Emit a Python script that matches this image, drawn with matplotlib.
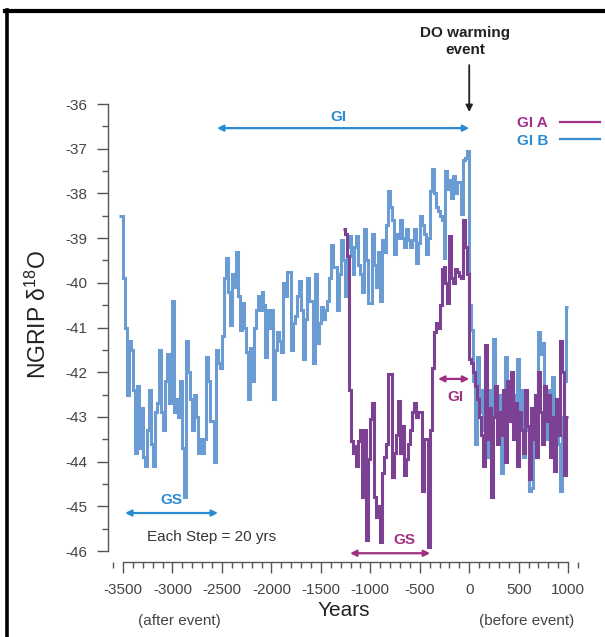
import numpy as np
import matplotlib
matplotlib.use("Agg")
import matplotlib.pyplot as plt
from matplotlib.ticker import MultipleLocator
from matplotlib.lines import Line2D
from matplotlib.transforms import blended_transform_factory

plt.rcParams['font.family'] = ['Liberation Sans', 'DejaVu Sans']
plt.rcParams['mathtext.default'] = 'regular'
plt.rcParams['axes.unicode_minus'] = False

# ---------------- data ----------------
step_years = 20
gib_start = -3540
gib_values = [
    -38.5, -38.5,
    -39.9, -41.0, -42.5, -41.3, -41.5,
    -42.4, -43.8, -42.3, -43.7, -42.8,
    -43.9, -44.1, -43.3, -42.4, -43.6,
    -44.1, -42.9, -42.7, -41.5, -42.9,
    -43.3, -42.2, -41.6, -42.7, -42.0,
    -40.4, -42.9, -42.6, -43.0, -42.2,
    -43.7, -44.8, -41.3, -42.0, -42.6,
    -43.3, -42.5, -43.0, -43.8, -43.5,
    -43.8, -43.5, -41.65, -42.2, -43.1,
    -43.1, -44.0, -41.5, -41.8, -41.9,
    -41.2, -39.9, -39.45, -40.2, -40.95,
    -39.8, -40.1, -39.3, -40.3, -41.05,
    -40.45, -41.0, -41.55, -42.6, -41.45,
    -42.2, -41.0, -40.6, -40.3, -40.6,
    -40.2, -40.5, -41.65, -40.6, -41.0,
    -40.6, -42.6, -41.5, -41.1, -41.3,
    -41.55, -40.0, -40.3, -39.75, -39.75,
    -41.5, -40.9, -40.75, -40.3, -39.95,
    -40.6, -41.7, -40.8, -39.9, -40.4,
    -40.4, -41.8, -39.8, -41.35, -40.9,
    -40.55, -40.8, -40.6, -40.4, -39.9,
    -39.15, -39.65, -39.65, -40.6, -39.8,
    -39.05, -39.5, -40.3, -39.2, -38.95,
    -39.4, -39.8, -39.2, -38.95, -39.6,
    -39.8, -40.2, -38.8, -39.5, -40.45,
    -40.45, -38.9, -39.6, -40.1, -39.3,
    -40.4, -39.05, -39.3, -38.7, -37.95,
    -38.3, -38.6, -39.35, -38.9, -39.0,
    -38.6, -39.0, -39.2, -38.8, -39.05,
    -39.2, -39.05, -38.8, -39.55, -39.1,
    -38.5, -38.7, -38.9, -39.35, -39.0,
    -37.95, -37.45, -38.0, -38.3, -38.4,
    -38.5, -38.6, -39.45, -37.5, -37.9,
    -37.7, -38.1, -37.6, -38.0, -37.75,
    -37.75, -38.45, -37.25, -37.2, -37.05,
    -40.5, -41.05, -42.2, -43.6, -41.65,
    -42.9, -42.4, -43.3, -41.9, -43.9,
    -42.4, -43.0, -41.25, -42.6, -43.4,
    -42.5, -44.25, -43.0, -41.65, -43.1,
    -42.2, -43.1, -42.5, -43.4, -41.7,
    -43.0, -42.4, -43.9, -42.6, -43.3,
    -44.65, -44.6, -43.2, -42.5, -43.0,
    -41.1, -41.6, -41.35, -42.8, -43.5,
    -42.4, -43.2, -42.1, -43.9, -42.9,
    -43.6, -44.65, -43.0, -42.2, -40.55,
]

gia_start = -1280
gia_values = [
    -38.8, -38.9, -39.4, -42.4,
    -43.55, -43.8, -43.65, -44.1, -43.55,
    -43.3, -44.8, -43.3, -45.75, -43.95,
    -43.05, -42.7, -44.8, -45.25, -45.0,
    -45.8, -44.25, -43.9, -43.6, -42.05,
    -42.05, -44.35, -43.8, -43.4, -42.65,
    -43.8, -43.2, -44.3, -43.95, -43.6,
    -43.3, -42.9, -42.7, -43.0, -42.9,
    -42.9, -44.65, -43.5, -43.5, -45.9,
    -43.3, -41.9, -41.1, -40.9, -41.0,
    -40.5, -39.7, -39.65, -40.0, -40.45,
    -38.95, -39.9, -40.0, -39.7, -39.75,
    -39.85, -39.9, -38.6, -39.2, -39.8,
    -41.7, -41.8, -42.0, -42.3, -42.6,
    -43.0, -43.4, -44.1, -41.4, -43.5,
    -42.8, -44.8, -43.0, -42.3, -43.6,
    -42.9, -43.4, -42.4, -44.0, -42.2,
    -43.1, -42.0, -43.5, -42.7, -44.1,
    -42.9, -43.3, -43.8, -42.4, -43.2,
    -44.4, -42.8, -43.5, -42.5, -43.9,
    -42.0, -42.9, -43.6, -42.3, -43.1,
    -42.5, -43.9, -43.0, -44.2, -42.6,
    -43.4, -41.3, -42.0, -44.3, -43.0,
]

x_ticks = [-3500, -3000, -2500, -2000, -1500, -1000, -500, 0, 500, 1000]
x_ticklabels = ['-3500', '-3000', '-2500', '-2000', '-1500', '-1000', '-500', '0', '500', '1000']
y_ticks = [-36, -37, -38, -39, -40, -41, -42, -43, -44, -45, -46]

series_labels = ['GI A', 'GI B']

# ---------------- styling ----------------
BLUE_LINE = '#6a9bd3'
PURPLE_LINE = '#7d4194'
BLUE_TXT = '#2a8bd2'
PURPLE_TXT = '#a0307f'
AXIS_C = '#555555'
TICK_TXT = '#444444'

W, H = 605, 637
fig = plt.figure(figsize=(W / 100, H / 100), dpi=100)
ax = fig.add_axes([108 / W, 75 / H, 472 / W, 458 / H])
ax.set_xlim(-3652, 1120)
ax.set_ylim(-46.246, -36)

gib_edges = gib_start + step_years * np.arange(len(gib_values) + 1)
gia_edges = gia_start + step_years * np.arange(len(gia_values) + 1)

ax.stairs(gib_values, gib_edges, baseline=None, color=BLUE_LINE, lw=2.2, zorder=2)
ax.stairs(gia_values, gia_edges, baseline=None, color=PURPLE_LINE, lw=2.2, zorder=3)

for s in ['top', 'right']:
    ax.spines[s].set_visible(False)
ax.spines['left'].set_bounds(-46, -36)
ax.spines['bottom'].set_bounds(-3500, 1000)
for s in ['left', 'bottom']:
    ax.spines[s].set_color(AXIS_C)
    ax.spines[s].set_linewidth(1)

ax.set_xticks(x_ticks)
ax.set_xticklabels(x_ticklabels)
ax.set_yticks(y_ticks)
ax.set_yticklabels([str(v) for v in y_ticks])
ax.xaxis.set_minor_locator(MultipleLocator(100))
ax.yaxis.set_minor_locator(MultipleLocator(0.5))
ax.tick_params(which='major', direction='out', length=8, width=1, color=AXIS_C,
               labelsize=11, labelcolor=TICK_TXT, pad=7)
ax.tick_params(which='minor', direction='out', length=4, width=1, color=AXIS_C)

# axis labels
fig.text(38 / W, 1 - 315 / H, 'NGRIP δ$^{18}$O', rotation=90, ha='center', va='center',
         fontsize=16.5, color='#222222')
bt = blended_transform_factory(ax.transData, fig.transFigure)
ax.text(-1266, 1 - 610 / H, 'Years', transform=bt, ha='center', va='center',
        fontsize=15, color='#222222')
ax.text(-2934, 1 - 621 / H, '(after event)', transform=bt, ha='center', va='center',
        fontsize=11, color=TICK_TXT)
ax.text(585, 1 - 621 / H, '(before event)', transform=bt, ha='center', va='center',
        fontsize=11, color=TICK_TXT)

# annotations
def dbl_arrow(x0, x1, y, color):
    ax.annotate('', xy=(x1, y), xytext=(x0, y),
                arrowprops=dict(arrowstyle='<|-|>', color=color, lw=1.6,
                                mutation_scale=9, shrinkA=0, shrinkB=0),
                annotation_clip=False)

dbl_arrow(-2550, 0, -36.54, BLUE_TXT)
ax.text(-1326, -36.29, 'GI', color=BLUE_TXT, fontsize=11, fontweight='bold',
        ha='center', va='center', clip_on=False)
dbl_arrow(-3480, -2540, -45.15, BLUE_TXT)
ax.text(-3015, -44.86, 'GS', color=BLUE_TXT, fontsize=11, fontweight='bold',
        ha='center', va='center')
ax.text(-3257, -45.69, 'Each Step = 20 yrs', color='#333333', fontsize=11,
        ha='left', va='center')
dbl_arrow(-1205, -395, -46.05, PURPLE_TXT)
ax.text(-660, -45.75, 'GS', color=PURPLE_TXT, fontsize=11, fontweight='bold',
        ha='center', va='center')
dbl_arrow(-315, 0, -42.15, PURPLE_TXT)
ax.text(-143, -42.55, 'GI', color=PURPLE_TXT, fontsize=11, fontweight='bold',
        ha='center', va='center')

# DO warming event
ax.annotate('', xy=(0, -36.18), xytext=(0, -35.13),
            arrowprops=dict(arrowstyle='-|>', color='#222222', lw=1.3,
                            mutation_scale=10, shrinkA=0, shrinkB=0),
            annotation_clip=False)
ax.text(-40, -34.6, 'DO warming\nevent', ha='center', va='center', fontsize=11,
        fontweight='bold', color='#222222', linespacing=1.2, clip_on=False)

# legend
leg = ax.legend([Line2D([], [], color='#a0308a', lw=1.6),
                 Line2D([], [], color='#3a8fd4', lw=1.6)],
                series_labels, loc='upper right',
                bbox_to_anchor=(600 / W, 1 - 116 / H), bbox_transform=fig.transFigure,
                frameon=False, markerfirst=False, handlelength=2.6, handletextpad=0.8,
                labelspacing=0.25, borderpad=0, borderaxespad=0,
                prop={'size': 11, 'weight': 'bold'})
for t, c in zip(leg.get_texts(), ['#a0308a', BLUE_TXT]):
    t.set_color(c)

# frame border (left and top)
fig.add_artist(Line2D([6.5 / W, 6.5 / W], [0, 1 - 10 / H], transform=fig.transFigure,
                      color='black', lw=2.6))
fig.add_artist(Line2D([5 / W, 1], [1 - 11 / H, 1 - 11 / H], transform=fig.transFigure,
                      color='black', lw=3))

fig.savefig('out.png', dpi=100)
